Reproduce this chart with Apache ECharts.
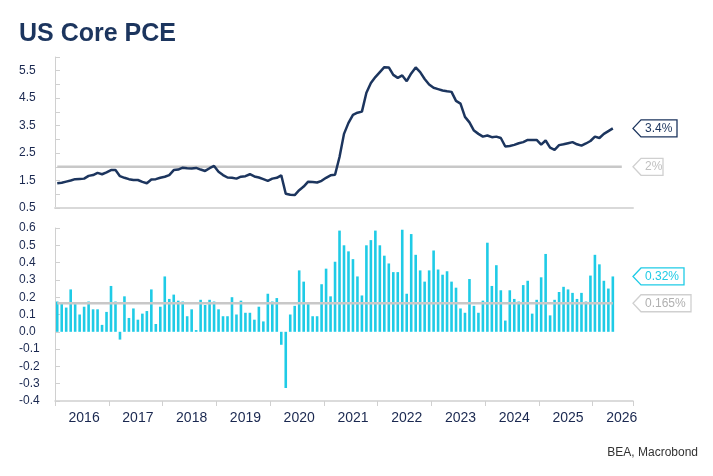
<!DOCTYPE html>
<html><head><meta charset="utf-8">
<script src="https://cdn.jsdelivr.net/npm/echarts@6/dist/echarts.min.js"></script>
<style>html,body{margin:0;padding:0;background:#fff}#c{width:713px;height:476px}</style>
</head><body><div id="c"></div>
<script>
const startYear = 2016;
const nMonths = 129;
const coreYoY = [1.40,1.42,1.46,1.50,1.55,1.56,1.57,1.67,1.70,1.78,1.73,1.80,1.88,1.88,1.66,1.60,1.55,1.52,1.52,1.45,1.40,1.54,1.55,1.60,1.64,1.70,1.88,1.90,1.97,1.95,1.94,1.96,1.90,1.85,1.95,2.03,1.82,1.70,1.61,1.60,1.57,1.64,1.66,1.73,1.65,1.61,1.55,1.49,1.57,1.60,1.69,1.02,0.98,0.97,1.15,1.28,1.46,1.45,1.43,1.49,1.60,1.69,1.71,2.36,3.20,3.60,3.89,3.97,4.01,4.70,5.05,5.27,5.45,5.63,5.62,5.35,5.24,5.33,5.12,5.40,5.62,5.45,5.20,5.00,4.88,4.83,4.78,4.75,4.73,4.40,4.30,3.82,3.62,3.32,3.20,3.10,3.14,3.08,3.10,3.05,2.74,2.76,2.80,2.86,2.90,2.98,2.98,2.98,2.81,2.96,2.70,2.62,2.79,2.82,2.86,2.90,2.82,2.77,2.85,2.94,3.10,3.05,3.20,3.30,3.40];
const coreMoM = [0.175,0.17,0.14,0.245,0.16,0.10,0.145,0.175,0.13,0.13,0.04,0.115,0.265,0.175,-0.045,0.205,0.08,0.135,0.07,0.105,0.12,0.245,0.045,0.145,0.32,0.19,0.215,0.18,0.175,0.09,0.13,0.01,0.185,0.155,0.185,0.175,0.13,0.09,0.09,0.2,0.1,0.18,0.11,0.11,0.07,0.145,0.06,0.22,0.175,0.195,-0.075,-0.325,0.1,0.15,0.355,0.29,0.16,0.09,0.09,0.275,0.365,0.205,0.405,
0.585,0.50,0.465,0.42,0.32,0.21,0.50,0.53,0.585,0.50,0.44,0.395,0.345,0.345,0.59,0.22,0.565,0.445,0.355,0.29,0.355,0.47,0.36,0.33,0.35,0.29,0.255,0.135,0.11,0.305,0.15,0.11,0.18,0.515,0.265,0.385,0.24,0.065,0.24,0.19,0.175,0.27,0.295,0.105,0.185,0.315,0.45,0.095,0.185,0.23,0.26,0.245,0.225,0.19,0.225,0.175,0.325,0.445,0.39,0.295,0.25,0.32];
const targetLine = 2;
const avgMoM = 0.165;
const topTicks = [0.5,1.5,2.5,3.5,4.5,5.5];
const botTicks = [-0.4,-0.3,-0.2,-0.1,0,0.1,0.2,0.3,0.4,0.5,0.6];

const cats = [];
for (let i=0;i<nMonths;i++) cats.push((startYear+Math.floor(i/12))+'-'+String(i%12+1).padStart(2,'0'));
const navy='#1c355e', cyan='#1fcbe6', grey='#c8c8c8', txt='#1a2850';
const xBase = {type:'category',data:cats,boundaryGap:true,
  axisLine:{lineStyle:{color:'#d0d0d0',width:1.5}},
  axisTick:{show:false}, axisLabel:{show:false}, splitLine:{show:false}};
const yLab = {color:txt,fontSize:12,fontFamily:'Liberation Sans',align:'left',margin:36};
const chart = echarts.init(document.getElementById('c'));
chart.setOption({
  animation:false,
  title:[{text:'US Core PCE',left:14,top:17,textStyle:{fontFamily:'Liberation Sans',fontWeight:'bold',fontSize:25,color:navy}},
         {text:'BEA, Macrobond',right:10,bottom:12,textStyle:{fontFamily:'Liberation Sans',fontWeight:'normal',fontSize:12,color:'#333'}}],
  grid:[{left:55,right:80,top:57,height:151},{left:55,right:80,top:228,height:173}],
  xAxis:[Object.assign({gridIndex:0},xBase,{axisLine:{lineStyle:{color:'#d9d9d9',width:2}}}),
         Object.assign({gridIndex:1},xBase,{axisLine:{onZero:false,lineStyle:{color:'#d0d0d0',width:1.5}},
           axisTick:{show:true,interval:(i)=>i%12===0,length:5,lineStyle:{color:'#d0d0d0'}},
           axisLabel:{show:true,interval:(i)=>i%12===6,formatter:(v)=>v.slice(0,4),color:txt,fontSize:14,fontFamily:'Liberation Sans',margin:10}})],
  yAxis:[{gridIndex:0,min:0.5,max:6,interval:0.5,axisLine:{show:true,lineStyle:{color:'#d0d0d0'}},
          axisTick:{show:true,inside:true,length:5,lineStyle:{color:'#d0d0d0'}},splitLine:{show:false},
          axisLabel:Object.assign({},yLab,{formatter:(v)=>topTicks.some(t=>Math.abs(t-v)<1e-6)?v.toFixed(1):''})},
         {gridIndex:1,min:-0.4,max:0.6,interval:0.1,axisLine:{show:true,lineStyle:{color:'#d0d0d0'}},
          axisTick:{show:true,inside:true,length:5,lineStyle:{color:'#d0d0d0'}},splitLine:{show:false},
          axisLabel:Object.assign({},yLab,{formatter:(v)=>botTicks.some(t=>Math.abs(t-v)<1e-6)?v.toFixed(1):''})}],
  series:[
    {type:'line',xAxisIndex:0,yAxisIndex:0,data:cats.map(c=>[c,targetLine]).slice(0,nMonths-2),symbol:'none',lineStyle:{color:grey,width:2.5},z:1},
    {type:'line',xAxisIndex:0,yAxisIndex:0,data:coreYoY,symbol:'none',lineStyle:{color:navy,width:2.5},z:3},
    {type:'bar',xAxisIndex:1,yAxisIndex:1,data:coreMoM,barWidth:2.6,itemStyle:{color:cyan},z:2},
    {type:'line',xAxisIndex:1,yAxisIndex:1,data:cats.map(c=>[c,avgMoM]).slice(0,coreMoM.length),symbol:'none',lineStyle:{color:grey,width:2.5},z:3}
  ]
});
function tag(gi, val, text, color, textColor){
  const p = chart.convertToPixel({xAxisIndex:gi,yAxisIndex:gi},[cats[nMonths-1],val]);
  const x0 = 633, y = p[1], w = text.length*7+8, h = 17;
  return {type:'group',children:[
    {type:'polygon',shape:{points:[[x0,y],[x0+8,y-h/2],[x0+8+w,y-h/2],[x0+8+w,y+h/2],[x0+8,y+h/2]]},
     style:{fill:'#fff',stroke:color,lineWidth:1.3}},
    {type:'text',x:x0+12,y:y,style:{text:text,fill:textColor,font:'12px Liberation Sans',verticalAlign:'middle'}}]};
}
chart.setOption({graphic:[
  tag(0,coreYoY[coreYoY.length-1],'3.4%',navy,navy),
  tag(0,targetLine,'2%','#d0d0d0','#c0c0c0'),
  tag(1,coreMoM[coreMoM.length-1],'0.32%',cyan,cyan),
  tag(1,avgMoM,'0.165%','#d0d0d0','#b0b0b0')]});
</script></body></html>
